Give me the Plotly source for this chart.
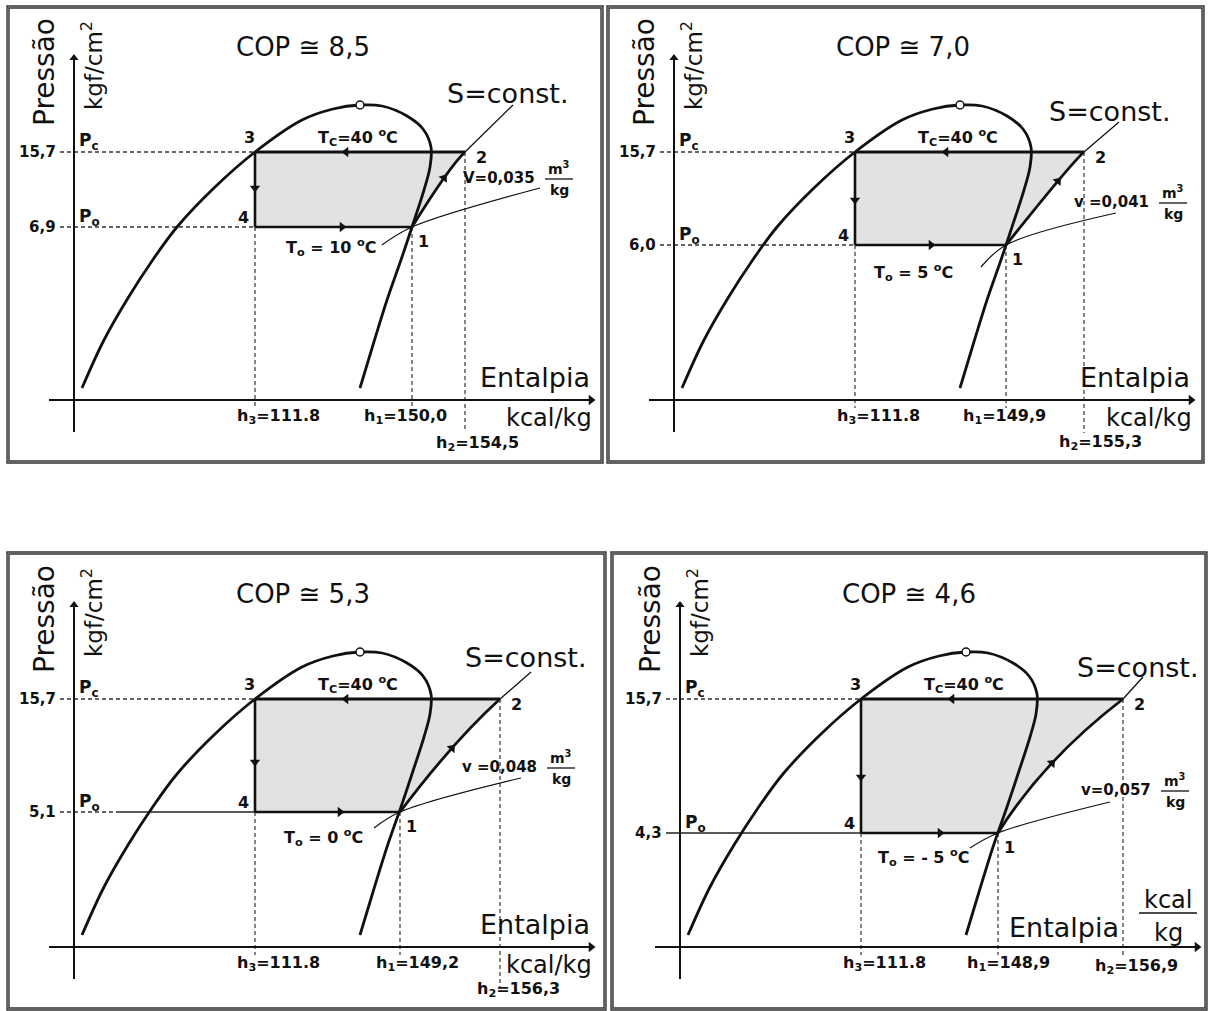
import math
import plotly.graph_objects as go

# ---------------- data ----------------
cop = [8.5, 7.0, 5.3, 4.6]
p_cond = 15.7
p_evap = [6.9, 6.0, 5.1, 4.3]
t_cond = 40
t_evap = [10, 5, 0, -5]
h_liq = 111.8
h_suc = [150.0, 149.9, 149.2, 148.9]
h_dis = [154.5, 155.3, 156.3, 156.9]
v_suc = [0.035, 0.041, 0.048, 0.057]
v_sym = ["V=", "v =", "v =", "v="]


def dec(x, n=1):
    return f"{x:.{n}f}".replace(".", ",")


# ---------------- schematic geometry (pixels, frame of panel 1) ----------------
OFF = [(0, 0), (600, 0), (0, 547), (606, 547)]
BOX = [(8, 7, 602, 462), (608, 7, 1203, 462), (8, 553, 605, 1009), (612, 553, 1206, 1009)]
Y_AX_X, X_AX_Y = 74, 400
Y_PC = 152
Y_PO = [227, 245, 265, 286]
X3 = 255
X1 = [412, 406, 400, 392]
X2 = [465, 484, 500, 517]
ISEN_MID = [(444, 178), (458, 181), (452, 201), (446, 216)]
S_END = [(513, 105), (519, 122), (531, 125), (537, 130)]
V_LEFT = [(382, 245), (381, 267), (374, 281), (364, 301)]
V_RIGHT = [(540, 188), (516, 213), (521, 231), (504, 255)]
V_LBL = [(537, 178), (551, 202), (539, 220), (547, 243)]
S_LBL = [(445, 93), (447, 111), (463, 110), (469, 120)]
TO_LBL = [(284, 247), (272, 272), (282, 290), (270, 310)]
ARR_TOP_X = 346
ARR_BOT_X = [342, 331, 340, 334]
ARR_VERT_Y = [188, 200, 215, 230]
H1_LBL_DX = [-7, -2, 17, 10]
H2_LBL = [(477, 443), (500, 442), (518, 442), (530, 419)]
H2_DASH_END = [432, 433, 440, 408]
DOME = [(82, 388), (104, 340), (128, 298), (152, 261), (177, 227), (215, 187), (255, 152),
        (302, 120), (333, 109), (360, 105), (382, 106), (407, 116), (423, 129),
        (431, 147), (430, 167), (424, 190), (412, 227), (402, 257), (387, 300), (373, 345),
        (360, 388)]
DOME_TOP = (360, 105)

BIG = "DejaVu Sans, Liberation Sans, Arial, sans-serif"
LBL = "DejaVu Sans, Liberation Sans, Arial, sans-serif"
INK = "#111111"

fig = go.Figure()
shapes = []
anns = []


def line(pts, w=2.8, color=INK, dash=None, shape="linear"):
    fig.add_trace(go.Scatter(
        x=[p[0] for p in pts], y=[p[1] for p in pts], mode="lines",
        line=dict(width=w, color=color, dash=dash, shape=shape, smoothing=1.0),
        hoverinfo="skip", showlegend=False))


def mark(x, y, symbol, size, angle=0, color=INK, lcolor=INK, lw=0):
    fig.add_trace(go.Scatter(
        x=[x], y=[y], mode="markers",
        marker=dict(symbol=symbol, size=size, angle=angle, color=color,
                    line=dict(color=lcolor, width=lw)),
        hoverinfo="skip", showlegend=False))


def text(x, y, s, size, bold=False, xa="center", ya="middle", angle=0, family=LBL):
    anns.append(dict(x=x, y=y, xref="x", yref="y", text=s,
                     showarrow=False, xanchor=xa, yanchor=ya, textangle=angle,
                     font=dict(family=family, size=size, color=INK,
                               weight=("bold" if bold else "normal"))))


for i in range(4):
    ox, oy = OFF[i]

    def P(x, y):
        return (x + ox, y + oy)

    yPo, x1, x2 = Y_PO[i], X1[i], X2[i]
    mx, my = ISEN_MID[i]

    # frame (double line)
    bx0, by0, bx1, by1 = BOX[i]
    shapes.append(dict(type="rect", x0=bx0, y0=by0, x1=bx1, y1=by1, xref="x", yref="y",
                       line=dict(color="#333333", width=3.4), layer="below"))
    shapes.append(dict(type="rect", x0=bx0, y0=by0, x1=bx1, y1=by1, xref="x", yref="y",
                       line=dict(color="#9a9a9a", width=0.9), layer="below"))

    # shaded cycle area + isentropic compression curve
    cx = 2 * mx - (x1 + x2) / 2
    cy = 2 * my - (yPo + Y_PC) / 2
    a3, a2, a1, a4, c = P(X3, Y_PC), P(x2, Y_PC), P(x1, yPo), P(X3, yPo), P(cx, cy)
    shapes.append(dict(type="path", xref="x", yref="y", layer="below",
                       path=f"M {a3[0]},{a3[1]} L {a2[0]},{a2[1]} Q {c[0]},{c[1]} {a1[0]},{a1[1]} "
                            f"L {a4[0]},{a4[1]} Z",
                       fillcolor="#e2e2e2", line=dict(width=0)))
    shapes.append(dict(type="path", xref="x", yref="y", layer="below",
                       path=f"M {a1[0]},{a1[1]} Q {c[0]},{c[1]} {a2[0]},{a2[1]}",
                       line=dict(color=INK, width=2.8)))

    # dashed reference lines
    dsh = "4px,3px"
    line([P(60, Y_PC), P(X3, Y_PC)], w=1.4, color="#333", dash=dsh)
    if i < 2:
        line([P(60, yPo), P(X3, yPo)], w=1.6, color="#333", dash=dsh)
    elif i == 2:
        line([P(60, yPo), P(120, yPo)], w=1.5, color="#333", dash=dsh)
        line([P(120, yPo), P(X3, yPo)], w=1.6, color="#222")
    else:
        line([P(60, yPo), P(X3, yPo)], w=1.6, color="#222")
    line([P(X3, yPo), P(X3, 408)], w=1.2, color="#333", dash=dsh)
    line([P(x1, yPo), P(x1, 408)], w=1.2, color="#333", dash=dsh)
    line([P(x2, Y_PC), P(x2, H2_DASH_END[i])], w=1.2, color="#333", dash=dsh)

    # axes
    line([P(Y_AX_X, 58), P(Y_AX_X, 432)], w=2)
    line([P(49, X_AX_Y), P(590, X_AX_Y)], w=2)
    ax_top = P(Y_AX_X, 58)
    mark(ax_top[0], ax_top[1], "triangle-up", 8)
    ax_end = P(591, X_AX_Y)
    mark(ax_end[0], ax_end[1], "triangle-right", 9)

    # saturation dome
    line([P(*p) for p in DOME], w=2.8, shape="spline")

    # cycle lines
    line([P(X3, Y_PC), P(x2, Y_PC)], w=2.8)
    line([P(X3, Y_PC), P(X3, yPo)], w=2.6)
    line([P(X3, yPo), P(x1, yPo)], w=2.6)

    # s = const extension and v = const line
    line([P(x2, Y_PC), P(*S_END[i])], w=1.3)
    line([P(*V_LEFT[i]), P(x1, yPo), P(*V_RIGHT[i])], w=1.2, shape="spline")

    # flow arrows
    t = P(ARR_TOP_X, Y_PC)
    mark(t[0], t[1], "triangle-left", 9)
    b = P(ARR_BOT_X[i], yPo)
    mark(b[0], b[1], "triangle-right", 9)
    v = P(X3, ARR_VERT_Y[i])
    mark(v[0], v[1], "triangle-down", 9)
    ang = math.degrees(math.atan2(x2 - x1, yPo - Y_PC))
    m = P(mx, my)
    mark(m[0], m[1], "triangle-up", 9, angle=ang)

    # critical point
    d = P(*DOME_TOP)
    mark(d[0], d[1], "circle", 8, color="white", lcolor=INK, lw=1.5)

    # ---------- texts ----------
    q = P(44, 72)
    text(q[0], q[1], "Pressão", 28, angle=-90, family=BIG)
    q = P(92, 66)
    text(q[0], q[1], "kgf/cm<sup>2</sup>", 23, angle=-90, family=BIG)
    q = P(303, 47)
    text(q[0], q[1], f"COP ≅ {dec(cop[i])}", 26, family=BIG)
    q = P(*S_LBL[i])
    text(q[0], q[1], "S=const.", 27, xa="left", family=BIG)

    q = P(358, 137)
    text(q[0], q[1], f"T<sub>C</sub>={t_cond} <sup>o</sup>C", 16, bold=True)
    te = t_evap[i]
    num = f"- {abs(te)}" if te < 0 else f"{te}"
    q = P(*TO_LBL[i])
    text(q[0], q[1], f"T<sub>o</sub> = {num} <sup>o</sup>C", 16, bold=True, xa="left")

    q = P(249, 137)
    text(q[0], q[1], "3", 16, bold=True)
    q = P(243, yPo - 10)
    text(q[0], q[1], "4", 16, bold=True)
    q = P(x2 + 16, 157)
    text(q[0], q[1], "2", 16, bold=True)
    q = P(x1 + 11, yPo + 14)
    text(q[0], q[1], "1", 16, bold=True)

    q = P(89, 141)
    text(q[0], q[1], "P<sub>c</sub>", 17, bold=True)
    q = P(89, yPo - 10)
    text(q[0], q[1], "P<sub>o</sub>", 17, bold=True)
    q = P(58, Y_PC)
    text(q[0], q[1], dec(p_cond), 15, bold=True, xa="right")
    q = P(58, yPo)
    text(q[0], q[1], dec(p_evap[i]), 15, bold=True, xa="right")

    # specific volume label with fraction
    vx, vy = V_LBL[i]
    q = P(vx, vy)
    text(q[0], q[1], f"{v_sym[i]}{dec(v_suc[i], 3)}", 15, bold=True, xa="right")
    fx = vx + 22
    line([P(fx - 14, vy + 1), P(fx + 14, vy + 1)], w=1.3)
    q = P(fx, vy - 10)
    text(q[0], q[1], "m<sup>3</sup>", 14, bold=True)
    q = P(fx, vy + 12)
    text(q[0], q[1], "kg", 14, bold=True)

    # enthalpy labels
    q = P(278, 416)
    text(q[0], q[1], f"h<sub>3</sub>={h_liq:.1f}", 16, bold=True)
    q = P(x1 + H1_LBL_DX[i], 416)
    text(q[0], q[1], f"h<sub>1</sub>={dec(h_suc[i])}", 16, bold=True)
    q = P(*H2_LBL[i])
    text(q[0], q[1], f"h<sub>2</sub>={dec(h_dis[i])}", 16, bold=True)

    if i < 3:
        q = P(592, 377)
        text(q[0], q[1], "Entalpia", 27, xa="right", family=BIG)
        q = P(594, 418)
        text(q[0], q[1], "kcal/kg", 24, xa="right", family=BIG)
    else:
        q = P(401, 380)
        text(q[0], q[1], "Entalpia", 27, xa="left", family=BIG)
        q = P(562, 353)
        text(q[0], q[1], "kcal", 24, family=BIG)
        line([P(533, 366), P(591, 366)], w=1.4)
        q = P(562, 386)
        text(q[0], q[1], "kg", 24, family=BIG)

fig.update_layout(
    width=1210, height=1011,
    margin=dict(l=0, r=0, t=0, b=0),
    font=dict(family=LBL, size=16, color=INK),
    paper_bgcolor="white", plot_bgcolor="white",
    xaxis=dict(range=[0, 1210], visible=False, fixedrange=True),
    yaxis=dict(range=[1011, 0], visible=False, fixedrange=True),
    shapes=shapes, annotations=anns, showlegend=False,
)
fig.write_html("out.html")
